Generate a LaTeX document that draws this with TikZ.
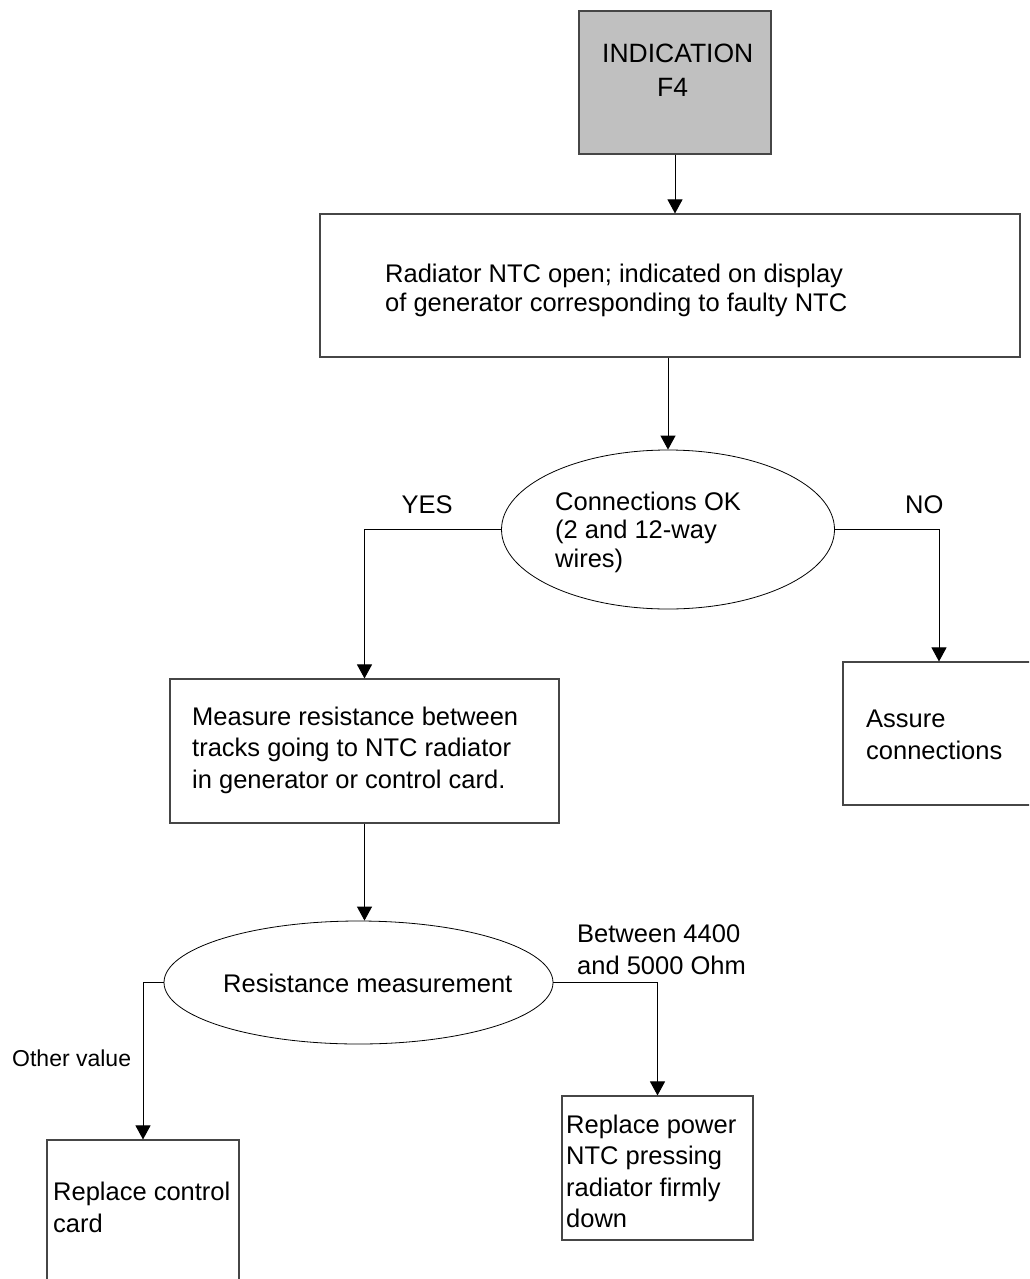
\documentclass[tikz,border=0pt]{standalone}
\usepackage{fontspec}
\setmainfont{Liberation Sans}
\usetikzlibrary{arrows.meta,shapes.geometric}
\definecolor{topgray}{RGB}{192,192,192}
\definecolor{edgegray}{RGB}{70,70,70}
\newcommand\mylines[1]{\begin{tabular}[t]{@{}l@{}}#1\end{tabular}}
\begin{document}
\begin{tikzpicture}[x=1pt,y=-1pt,
  box/.style={draw=edgegray, line width=1.1pt, rectangle, inner sep=0pt},
  dec/.style={draw=black, line width=0.8pt, ellipse, inner sep=0pt},
  txt/.style={anchor=base west, inner sep=0pt, font=\fontsize{25.5}{31.5}\selectfont},
  arr/.style={draw=black, line width=1pt, -{Triangle[width=15pt,length=14pt]}}]
\useasboundingbox (0,0) rectangle (1029,1279);
\clip (0,0) rectangle (1029,1279);
% shapes
\node[box, fill=topgray, minimum width=192pt, minimum height=143pt] (top) at (675,82.5) {};
\node[box, minimum width=700pt, minimum height=143pt] (rad) at (670,285.5) {};
\node[dec, minimum width=333pt, minimum height=159pt] (conn) at (668,529.5) {};
\node[box, minimum width=389pt, minimum height=144pt] (meas) at (364.5,751) {};
\node[box, minimum width=192pt, minimum height=143pt] (assure) at (939,733.5) {};
\node[dec, minimum width=389pt, minimum height=123pt] (res) at (358.5,982.5) {};
\node[box, minimum width=191pt, minimum height=144pt] (power) at (657.5,1168) {};
\node[box, minimum width=192pt, minimum height=160pt] (ctrl) at (143,1220) {};
% texts
\node[txt, font=\fontsize{26.5}{34}\selectfont] (ttop) at (602,63) {\mylines{INDICATION\\\hspace{55pt}F4}};
\node[txt, font=\fontsize{25.5}{29.5}\selectfont] (trad) at (385,282) {\mylines{Radiator NTC open; indicated on display\\of generator corresponding to faulty NTC}};
\node[txt, font=\fontsize{25.5}{28.5}\selectfont] (tconn) at (555,510) {\mylines{Connections OK\\(2 and 12-way\\wires)}};
\node[txt] (tyes) at (401.5,513) {YES};
\node[txt] (tno) at (905,513) {NO};
\node[txt] (tmeas) at (192,725) {\mylines{Measure resistance between\\tracks going to NTC radiator\\in generator or control card.}};
\node[txt, font=\fontsize{25.5}{32}\selectfont] (tassure) at (866,727) {\mylines{Assure\\connections}};
\node[txt] (tres) at (223,992) {Resistance measurement};
\node[txt, font=\fontsize{25.5}{32}\selectfont] (tbetween) at (577,942) {\mylines{Between 4400\\and 5000 Ohm}};
\node[txt, font=\fontsize{23}{28}\selectfont] (tother) at (12,1066) {Other value};
\node[txt] (tpower) at (566,1133) {\mylines{Replace power\\NTC pressing\\radiator firmly\\down}};
\node[txt, font=\fontsize{25.5}{32}\selectfont] (tctrl) at (53,1200) {\mylines{Replace control\\card}};
% connectors
\draw[arr] (top.south) -- (top.south |- rad.north);
\draw[arr] (conn.north |- rad.south) -- (conn.north);
\draw[arr] (conn.west) -| (meas.north);
\draw[arr] (conn.east) -| (assure.north);
\draw[arr] (meas.south) -- (meas.south |- res.north);
\draw[arr] (res.west) -| (ctrl.north);
\draw[arr] (res.east) -| (power.north);
\end{tikzpicture}
\end{document}
